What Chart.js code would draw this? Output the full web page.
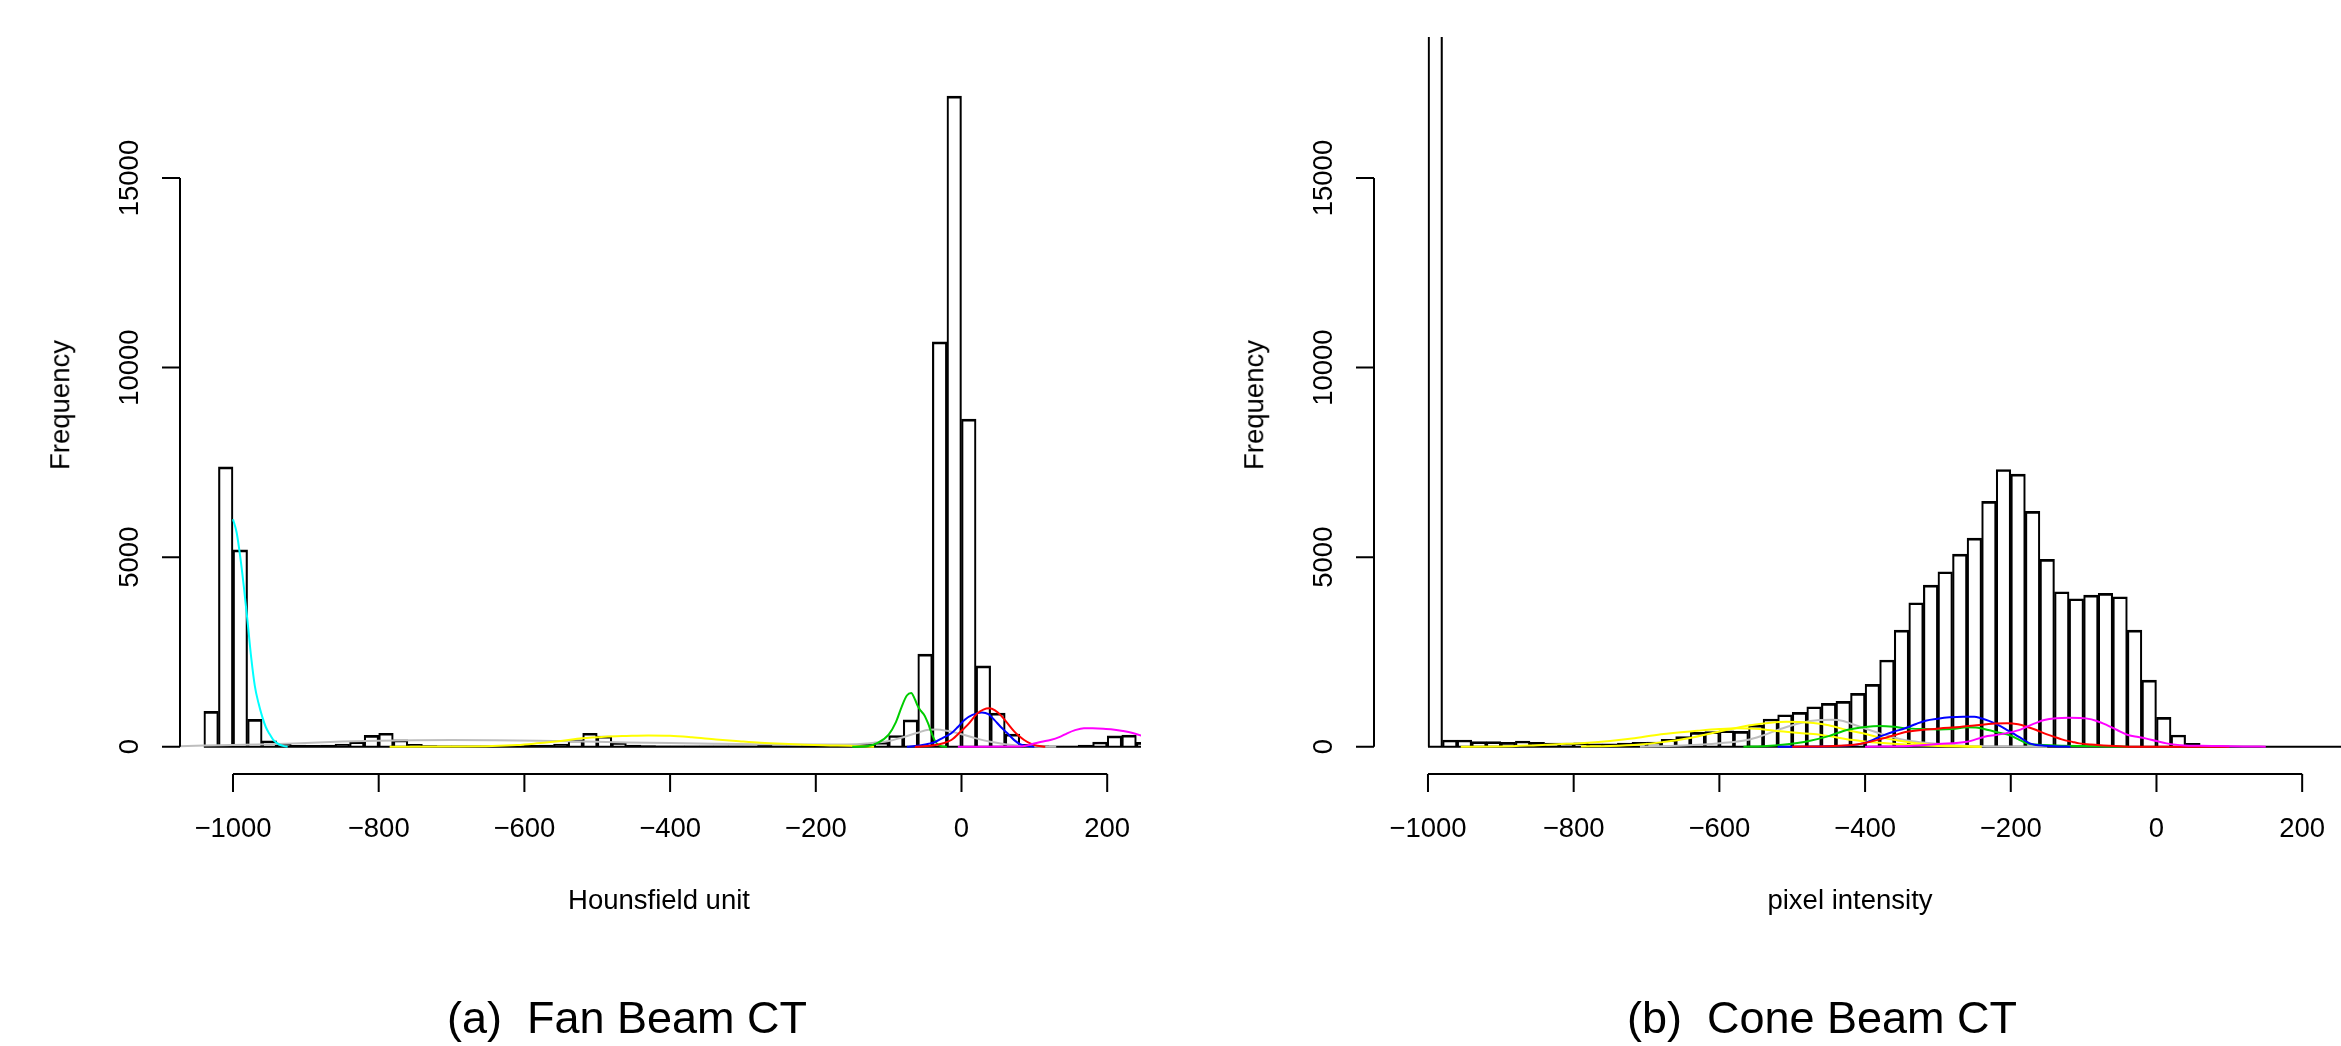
<!DOCTYPE html>
<html>
<head>
<meta charset="utf-8">
<title>Fan beam vs cone beam CT histograms</title>
<script src="https://cdn.jsdelivr.net/npm/chart.js@4.4.1/dist/chart.umd.min.js"></script>
<style>
  html, body { margin: 0; padding: 0; background: #fff; }
  #page { position: relative; width: 2341px; height: 1046px; overflow: hidden;
          font-family: "Liberation Sans", Arial, Helvetica, sans-serif; color: #000; }
  canvas { position: absolute; top: 0; }
  .lbl { position: absolute; white-space: pre; line-height: 1; font-size: 27.5px;
         transform: translate(-50%, -50%); }
  .rot { transform: translate(-50%, -50%) rotate(-90deg); }
  .cap { font-size: 45px; }
</style>
</head>
<body>
<div id="page">
  <canvas id="fan" width="1141" height="1046" style="left:0px"></canvas>
  <canvas id="cone" width="1181" height="1046" style="left:1160px"></canvas>

  <div class="lbl rot" style="left:60px; top:405px">Frequency</div>
  <div class="lbl rot" style="left:1254px; top:405px">Frequency</div>
  <div class="lbl" style="left:659px; top:900px">Hounsfield unit</div>
  <div class="lbl" style="left:1850px; top:900px">pixel intensity</div>
  <div class="lbl cap" style="left:627px; top:1017px">(a)  Fan Beam CT</div>
  <div class="lbl cap" style="left:1822px; top:1017px">(b)  Cone Beam CT</div>
</div>

<script>
// histogram bins (20 wide) ===========================================================================
var binWidth = 20;
var fanStart = -1040;
var coneStart = -1000;

var fanCounts = [930, 7380, 5190, 722, 158, 80, 40, 35, 40, 70,
    132, 300, 355, 180, 62, 30, 25, 20, 20, 25,
    25, 30, 35, 45, 70, 180, 355, 280, 110, 45,
    30, 25, 20, 20, 20, 20, 20, 25, 40, 25,
    25, 30, 30, 35, 40, 60, 120, 295, 707, 2440,
    10680, 17160, 8640, 2130, 884, 330, 60, 25, 15, 15,
    40, 125, 285, 305, 115];

// first bin runs off the top of the plot
var coneCounts = [40000, 176, 176, 132, 132, 114, 150, 114, 97, 97,
    105, 79, 79, 97, 114, 123, 193, 264, 378, 396,
    422, 404, 571, 730, 844, 905, 1055, 1143, 1195, 1406,
    1644, 2286, 3077, 3797, 4263, 4615, 5081, 5503, 6469, 7313,
    7190, 6206, 4940, 4087, 3903, 4000, 4043, 3956, 3077, 1758,
    774, 308, 88, 35, 18, 10, 8, 6, 5, 5,
    4, 3, 3];

var xTicks = [-1000, -800, -600, -400, -200, 0, 200];
var yTicks = [0, 5000, 10000, 15000];

// mixture component curves, fan beam =================================================================
var fanCyan = [[-1000, 6000], [-995, 5650], [-990, 5000], [-985, 4200], [-980, 3300], [-975, 2350],
    [-970, 1600], [-965, 1150], [-960, 800], [-955, 520], [-950, 340], [-945, 190], [-940, 100],
    [-935, 45], [-930, 15], [-925, 0]];
var fanGray = [[-1073, 15], [-1040, 30], [-1000, 45], [-950, 65], [-900, 100], [-850, 135], [-800, 160],
    [-750, 172], [-700, 176], [-640, 170], [-580, 158], [-520, 136], [-460, 114], [-400, 95],
    [-340, 79], [-280, 65], [-215, 55], [-160, 60], [-130, 85], [-100, 150], [-80, 250], [-60, 370],
    [-45, 450], [-35, 455], [-20, 420], [0, 330], [20, 220], [40, 130], [60, 65], [80, 25],
    [100, 8], [130, 0]];
var fanYellow = [[-785, 0], [-700, 5], [-644, 18], [-610, 45], [-583, 88], [-550, 150], [-521, 220],
    [-490, 262], [-460, 283], [-430, 298], [-400, 290], [-370, 250], [-337, 193], [-305, 145],
    [-276, 105], [-245, 75], [-215, 53], [-180, 35], [-153, 22], [-129, 5], [-120, 0]];
var fanGreen = [[-150, 0], [-130, 10], [-115, 100], [-100, 320], [-90, 650], [-82, 1060], [-75, 1350],
    [-69, 1415], [-64, 1250], [-60, 1070], [-56, 950], [-51, 830], [-46, 620], [-41, 360],
    [-36, 140], [-31, 40], [-25, 5], [-20, 0]];
var fanBlue = [[-75, 0], [-60, 25], [-45, 80], [-37, 118], [-25, 240], [-14, 353], [-5, 520], [4, 707],
    [15, 840], [28, 905], [37, 860], [45, 707], [54, 520], [63, 353], [72, 180], [81, 60],
    [90, 15], [100, 0]];
var fanRed = [[-64, 0], [-40, 30], [-25, 90], [-14, 177], [0, 420], [9, 590], [22, 884], [30, 980],
    [38, 1013], [46, 960], [54, 825], [63, 620], [72, 412], [79, 280], [86, 177], [95, 80],
    [104, 24], [115, 0]];
var fanMagenta = [[-5, 0], [80, 5], [95, 60], [110, 130], [122, 177], [135, 260], [145, 353], [155, 430],
    [168, 490], [180, 485], [195, 471], [210, 450], [222, 412], [235, 360], [247, 295], [260, 250]];

// mixture component curves, cone beam ================================================================
var coneYellowA = [[-955, 0], [-900, 5], [-850, 40], [-810, 75], [-790, 90], [-750, 150], [-720, 215],
    [-680, 330], [-630, 420], [-600, 465], [-575, 485], [-545, 470], [-517, 405], [-490, 360],
    [-471, 335], [-450, 280], [-425, 195], [-400, 140], [-380, 105], [-355, 70], [-334, 44],
    [-310, 22], [-288, 10], [-265, 3], [-240, 0]];
var coneYellowB = [[-790, 5], [-750, 20], [-709, 60], [-681, 114], [-640, 230], [-600, 400], [-560, 560],
    [-530, 635], [-508, 659], [-490, 650], [-471, 625], [-450, 565], [-425, 440], [-400, 340],
    [-380, 246], [-355, 165], [-334, 105], [-310, 60], [-288, 30], [-265, 12], [-240, 0]];
var coneGray = [[-709, 0], [-680, 15], [-650, 30], [-600, 90], [-562, 176], [-540, 300], [-517, 460],
    [-490, 620], [-462, 703], [-445, 710], [-430, 680], [-418, 600], [-400, 480], [-380, 352],
    [-363, 260], [-346, 176], [-320, 110], [-298, 70], [-270, 35], [-240, 15], [-200, 3], [-150, 0]];
var coneGreen = [[-567, 0], [-540, 15], [-510, 60], [-480, 140], [-450, 280], [-425, 440], [-400, 520],
    [-380, 548], [-360, 525], [-346, 490], [-320, 465], [-298, 457], [-280, 470], [-260, 510],
    [-245, 500], [-231, 440], [-216, 370], [-202, 308], [-190, 200], [-178, 88], [-165, 55],
    [-154, 44], [-130, 28], [-106, 18], [-70, 8], [-39, 0]];
var coneBlue = [[-520, 0], [-460, 8], [-420, 35], [-403, 88], [-390, 170], [-380, 262], [-360, 400],
    [-346, 480], [-330, 600], [-317, 686], [-300, 740], [-284, 774], [-265, 790], [-250, 790],
    [-241, 750], [-230, 680], [-217, 571], [-205, 440], [-193, 308], [-183, 190], [-174, 88],
    [-165, 45], [-154, 26], [-135, 8], [-118, 0]];
var coneRed = [[-500, 0], [-450, 15], [-418, 44], [-400, 100], [-380, 193], [-360, 300], [-346, 380],
    [-320, 445], [-298, 483], [-270, 520], [-250, 560], [-222, 610], [-205, 620], [-190, 590],
    [-178, 527], [-165, 440], [-154, 352], [-140, 260], [-130, 193], [-115, 125], [-106, 88],
    [-90, 55], [-73, 35], [-50, 12], [-35, 0], [100, 0]];
var coneMagenta = [[-400, 0], [-340, 20], [-300, 70], [-260, 130], [-236, 264], [-220, 310], [-207, 352],
    [-190, 430], [-178, 527], [-165, 630], [-154, 703], [-138, 750], [-121, 765], [-105, 760],
    [-97, 747], [-82, 680], [-68, 571], [-54, 440], [-39, 308], [-25, 255], [-15, 220], [0, 150],
    [14, 88], [26, 55], [38, 35], [60, 25], [86, 18], [120, 8], [150, 0]];
//====================================================================================================

var FONT = '"Liberation Sans", Arial, Helvetica, sans-serif';
var TICK_SIZE = 27.5;

function minus(v) {
    return v < 0 ? '\u2212' + Math.abs(v) : String(v);
}

function toXY(pairs) {
    return pairs.map(function (p) { return {x: p[0], y: p[1]}; });
}

// R style axes: line only from first to last tick, ticks pointing out, rotated y labels
var rAxes = {
    id: 'rAxes',
    afterDraw: function (chart) {
        var ctx = chart.ctx, a = chart.chartArea;
        var xs = chart.scales.x, ys = chart.scales.y;
        var tick = 18, gap = 52;
        var off = TICK_SIZE * 0.36;
        ctx.save();
        ctx.strokeStyle = '#000';
        ctx.fillStyle = '#000';
        ctx.lineWidth = 2;
        ctx.font = TICK_SIZE + 'px ' + FONT;

        ctx.beginPath();
        ctx.moveTo(xs.getPixelForValue(xTicks[0]), a.bottom);
        ctx.lineTo(xs.getPixelForValue(xTicks[xTicks.length - 1]), a.bottom);
        xTicks.forEach(function (t) {
            var px = xs.getPixelForValue(t);
            ctx.moveTo(px, a.bottom);
            ctx.lineTo(px, a.bottom + tick);
        });
        ctx.moveTo(a.left, ys.getPixelForValue(yTicks[0]));
        ctx.lineTo(a.left, ys.getPixelForValue(yTicks[yTicks.length - 1]));
        yTicks.forEach(function (t) {
            var py = ys.getPixelForValue(t);
            ctx.moveTo(a.left, py);
            ctx.lineTo(a.left - tick, py);
        });
        ctx.stroke();

        ctx.textAlign = 'center';
        ctx.textBaseline = 'alphabetic';
        xTicks.forEach(function (t) {
            ctx.fillText(minus(t), xs.getPixelForValue(t), a.bottom + gap + 1 + off);
        });
        yTicks.forEach(function (t) {
            ctx.save();
            ctx.translate(a.left - gap, ys.getPixelForValue(t));
            ctx.rotate(-Math.PI / 2);
            ctx.fillText(String(t), 0, off);
            ctx.restore();
        });
        ctx.restore();
    }
};

function makeHist(id, start, counts, curves, xmin, xmax, padLeft) {
    var bars = counts.map(function (c, i) {
        return {x: start + binWidth * i + binWidth / 2, y: c};
    });
    var end = start + binWidth * counts.length;

    var datasets = [{
        type: 'bar',
        data: bars,
        backgroundColor: 'rgba(0,0,0,0)',
        borderColor: '#000',
        borderWidth: {top: 2, left: 1.5, right: 1.5, bottom: 0},
        borderSkipped: false,
        barPercentage: 1,
        categoryPercentage: 1,
        clip: 0,
        order: 20
    }, {
        type: 'line',
        data: [{x: start, y: 0}, {x: end, y: 0}],
        borderColor: '#000',
        borderWidth: 2,
        pointRadius: 0,
        clip: 0,
        order: 19
    }];

    curves.forEach(function (c, i) {
        datasets.push({
            type: 'line',
            data: toXY(c.data),
            borderColor: c.color,
            borderWidth: 2,
            pointRadius: 0,
            fill: false,
            cubicInterpolationMode: 'monotone',
            clip: 0,
            order: 10 - i
        });
    });

    return new Chart(document.getElementById(id).getContext('2d'), {
        type: 'bar',
        data: {datasets: datasets},
        options: {
            responsive: false,
            animation: false,
            devicePixelRatio: 1,
            layout: {padding: {left: padLeft, top: 37, right: 0, bottom: 1046 - 774}},
            plugins: {legend: {display: false}, tooltip: {enabled: false}},
            scales: {
                x: {type: 'linear', min: xmin, max: xmax, offset: false,
                    grid: {offset: false}, display: false},
                y: {type: 'linear', min: -720, max: 18720, display: false}
            }
        },
        plugins: [rAxes]
    });
}

makeHist('fan', fanStart, fanCounts, [
    {data: fanGray, color: '#BEBEBE'},
    {data: fanYellow, color: '#FFFF00'},
    {data: fanGreen, color: '#00CD00'},
    {data: fanBlue, color: '#0000FF'},
    {data: fanRed, color: '#FF0000'},
    {data: fanMagenta, color: '#FF00FF'},
    {data: fanCyan, color: '#00FFFF'}
], -1072.75, 246.4, 180);

makeHist('cone', coneStart, coneCounts, [
    {data: coneGray, color: '#BEBEBE'},
    {data: coneYellowA, color: '#FFFF00'},
    {data: coneYellowB, color: '#FFFF00'},
    {data: coneGreen, color: '#00CD00'},
    {data: coneBlue, color: '#0000FF'},
    {data: coneRed, color: '#FF0000'},
    {data: coneMagenta, color: '#FF00FF'}
], -1074.1, 253.3, 214);
</script>
</body>
</html>
